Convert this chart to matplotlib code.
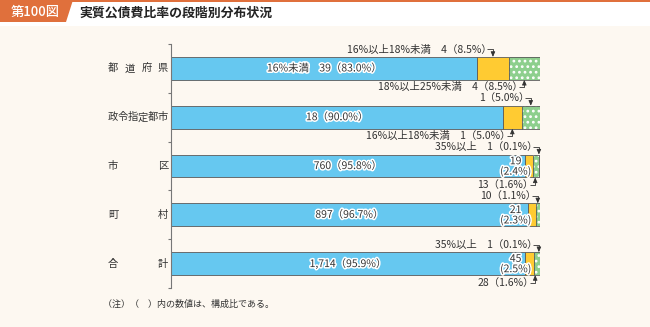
import matplotlib
matplotlib.use("Agg")
import matplotlib.pyplot as plt
import matplotlib.patheffects as pe
from matplotlib.patches import Polygon, Rectangle

plt.rcParams['font.family'] = ['Noto Sans CJK JP', 'DejaVu Sans']
plt.rcParams['hatch.linewidth'] = 1.2

# ---- data ----
categories = ['都道府県', '政令指定都市', '市区', '町村', '合計']
cnt_lt16 = ['39', '18', '760', '897', '1,714']
pct_lt16 = [83.0, 90.0, 95.8, 96.7, 95.9]
cnt_16_18 = ['4', '1', '19', '21', '45']
pct_16_18 = [8.5, 5.0, 2.4, 2.3, 2.5]
cnt_18_25 = ['4', '1', '13', '10', '28']
pct_18_25 = [8.5, 5.0, 1.6, 1.1, 1.6]
cnt_ge35 = ['', '', '1', '', '1']
pct_ge35 = [0.0, 0.0, 0.1, 0.0, 0.1]

title = '実質公債費比率の段階別分布状況'
fig_label = '第100図'
note = '（注）（　）内の数値は、構成比である。'

BLUE = '#66C8F0'
YELLOW = '#FFCB32'
GREEN = '#8DCF8D'
GRAY = '#E6E6E6'
EDGE = '#5a5a5a'
TXT = '#333333'
BG = '#FDF8F1'
ORANGE = '#E0703C'

W, H = 650, 327
fig = plt.figure(figsize=(6.5, 3.27), dpi=100)
fig.patch.set_facecolor(BG)


def fx(px):
    return px / W


def fy(py):
    return 1 - py / H


# header
fig.patches.append(Rectangle((0, fy(26)), 1, fy(0) - fy(26), transform=fig.transFigure,
                             facecolor='white', edgecolor='none', zorder=0))
fig.patches.append(Rectangle((0, fy(2)), 1, fy(0) - fy(2), transform=fig.transFigure,
                             facecolor=ORANGE, edgecolor='none', zorder=1))
fig.patches.append(Polygon([(fx(0), fy(0)), (fx(73), fy(0)), (fx(66), fy(22)), (fx(0), fy(22))],
                           closed=True, transform=fig.transFigure, facecolor=ORANGE,
                           edgecolor='none', zorder=1))
fig.text(fx(35), fy(11.5), fig_label, color='white', fontsize=9.5, ha='center', va='center',
         fontweight='medium')
fig.text(fx(79), fy(12.5), title, color='#222222', fontsize=9.3, ha='left', va='center',
         fontweight='bold')

# axes
ax_left, ax_right, ax_top, ax_bot = 171, 540, 44, 288
ax = fig.add_axes([fx(ax_left), fy(ax_bot), fx(ax_right) - fx(ax_left), fy(ax_top) - fy(ax_bot)])
ax.set_facecolor('none')
ax.set_xlim(0, 100)
n = len(categories)
ax.set_ylim(n - 0.5, -0.5)
for s in ['top', 'right', 'bottom']:
    ax.spines[s].set_visible(False)
ax.spines['left'].set_color('#777777')
ax.spines['left'].set_linewidth(0.8)
ax.set_xticks([])
ax.set_yticks([i - 0.5 for i in range(n + 1)])
ax.set_yticklabels([])
ax.tick_params(axis='y', length=2.5, width=0.8, color='#777777', direction='out')

ys = list(range(n))
bh = 0.47
left2 = [a for a in pct_lt16]
left3 = [a + b for a, b in zip(pct_lt16, pct_16_18)]
left4 = [a + b + c for a, b, c in zip(pct_lt16, pct_16_18, pct_18_25)]

ax.barh(ys, pct_lt16, height=bh, color=BLUE, edgecolor=EDGE, linewidth=0.6, zorder=2)
ax.barh(ys, pct_16_18, left=left2, height=bh, color=YELLOW, edgecolor=EDGE, linewidth=0.6, zorder=2)
ax.barh(ys, pct_18_25, left=left3, height=bh, color=GREEN, edgecolor='white', linewidth=0,
        hatch='...', zorder=2)
ax.barh(ys, pct_18_25, left=left3, height=bh, color='none', edgecolor=EDGE, linewidth=0.6, zorder=3)
ax.barh(ys, pct_ge35, left=left4, height=bh, color=GRAY, edgecolor=EDGE, linewidth=0.6, zorder=3)

halo = [pe.withStroke(linewidth=2.2, foreground='white')]

# category labels (justified across a fixed width)
lab_l, lab_r = 108, 168
cw = 10.0
for i, c in enumerate(categories):
    ypx = ax_top + (i + 0.5) * (ax_bot - ax_top) / n
    chars = list(c)
    k_n = len(chars)
    first = lab_l + cw / 2
    last = lab_r - cw / 2
    for k, ch in enumerate(chars):
        xc = first + (last - first) * k / (k_n - 1)
        fig.text(fx(xc), fy(ypx), ch, ha='center', va='center', fontsize=7.4, color=TXT)

# blue segment labels
for i in range(n):
    prefix = '16%未満　' if i == 0 else ''
    ax.text(pct_lt16[i] / 2, ys[i], f'{prefix}{cnt_lt16[i]}（{pct_lt16[i]:.1f}%）', ha='center',
            va='center', fontsize=7.5, color=TXT, path_effects=halo, zorder=5)

# two-line labels for small yellow segments
for i in range(2, n):
    ax.text(93.4, ys[i] + 0.01, f'{cnt_16_18[i]}\n({pct_16_18[i]:.1f}%)', ha='center', va='center',
            multialignment='center', fontsize=7.5, color=TXT, linespacing=0.95,
            path_effects=halo, zorder=5)

ppx = (ax_right - ax_left) / 100.0
ppy = (ax_bot - ax_top) / n
dy = 7.5 / ppy


def callout(text, x_arrow, cat, side):
    if side == 'above':
        y_edge = cat - bh / 2
        y_text = y_edge - dy
    else:
        y_edge = cat + bh / 2
        y_text = y_edge + dy
    ax.text(x_arrow - 0.4, y_text, text, ha='right', va='center', fontsize=7.5, color=TXT,
            zorder=5, clip_on=False)
    ax.plot([x_arrow - 1.5, x_arrow, x_arrow], [y_text, y_text, (y_text + y_edge) / 2],
            color='#333333', lw=0.6, clip_on=False, zorder=5, solid_capstyle='butt')
    ax.annotate('', xy=(x_arrow, y_edge), xytext=(x_arrow, (y_text + y_edge) / 2),
                arrowprops=dict(arrowstyle='-|>,head_length=0.3,head_width=0.13', color='#333333',
                                lw=0.6, shrinkA=0, shrinkB=0),
                annotation_clip=False, zorder=5)


def mid(left, w):
    return left + w / 2


# 都道府県
callout(f'16%以上18%未満　{cnt_16_18[0]}（{pct_16_18[0]:.1f}%）', mid(left2[0], pct_16_18[0]), 0, 'above')
callout(f'18%以上25%未満　{cnt_18_25[0]}（{pct_18_25[0]:.1f}%）', mid(left3[0], pct_18_25[0]), 0, 'below')
# 政令指定都市
callout(f'{cnt_18_25[1]}（{pct_18_25[1]:.1f}%）', mid(left3[1], pct_18_25[1]), 1, 'above')
callout(f'16%以上18%未満　{cnt_16_18[1]}（{pct_16_18[1]:.1f}%）', mid(left2[1], pct_16_18[1]), 1, 'below')
# 市区
callout(f'35%以上　{cnt_ge35[2]}（{pct_ge35[2]:.1f}%）', 99.7, 2, 'above')
callout(f'{cnt_18_25[2]}（{pct_18_25[2]:.1f}%）', 98.7, 2, 'below')
# 町村
callout(f'{cnt_18_25[3]}（{pct_18_25[3]:.1f}%）', 99.4, 3, 'above')
# 合計
callout(f'35%以上　{cnt_ge35[4]}（{pct_ge35[4]:.1f}%）', 99.7, 4, 'above')
callout(f'{cnt_18_25[4]}（{pct_18_25[4]:.1f}%）', 98.7, 4, 'below')

fig.text(fx(103), fy(304), note, ha='left', va='center', fontsize=6.5, color=TXT)

fig.savefig('out.png', dpi=100, facecolor=fig.get_facecolor())
